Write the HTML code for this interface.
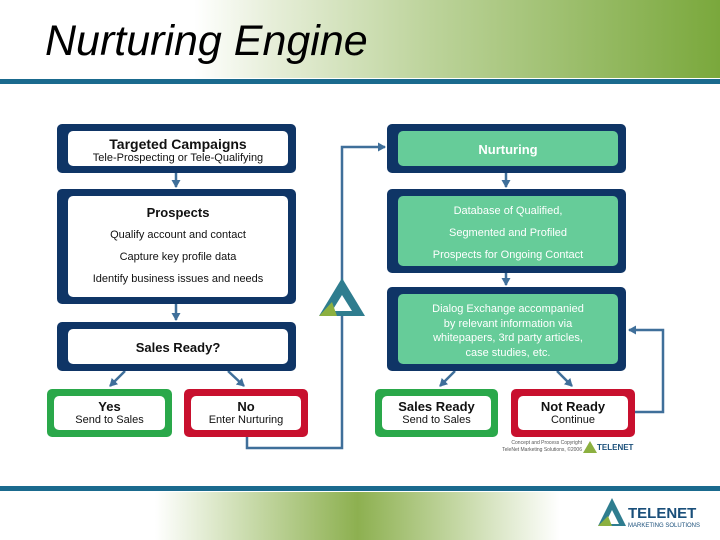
<!DOCTYPE html>
<html><head><style>
body{margin:0;width:720px;height:540px;position:relative;background:#fff;font-family:"Liberation Sans",sans-serif;overflow:hidden}
.a{position:absolute}
.o{position:absolute;background:#0f3566;border-radius:5px}
.i{position:absolute;left:11px;right:8px;top:7px;bottom:7px;background:#fff;border-radius:5px;text-align:center;color:#111;font-size:11px}
.g .i{background:#66cc99;color:#fff}
.b{font-weight:bold;font-size:13px}
</style></head><body>
<div class="a" style="left:0;top:0;width:720px;height:78px;background:linear-gradient(90deg,#fff 0%,#fff 27%,#e6eed8 38%,#bcd39a 60%,#7aa83c 100%)"></div>
<div class="a" style="left:45px;top:17px;font-size:43px;font-style:italic;color:#000">Nurturing Engine</div>
<div class="a" style="left:0;top:79px;width:720px;height:5px;background:#1a6a8e"></div>
<div class="a" style="left:0;top:486px;width:720px;height:5px;background:#1a6a8e"></div>
<div class="a" style="left:155px;top:492px;width:405px;height:48px;background:linear-gradient(90deg,#fff,#c5d8a5 25%,#8db050 50%,#c5d8a5 75%,#fff)"></div>
<svg class="a" style="left:598px;top:496px" width="112" height="34"><polygon points="14,2 28,30 0,30" fill="#2f7d8f"/><polygon points="14,14 21,28 7,28" fill="#fff"/><polygon points="0,30 10,20 14,30" fill="#8cb040"/><text x="30" y="22" font-family="Liberation Sans" font-weight="bold" font-size="15" fill="#1a4f7a">TELENET</text><text x="30" y="31" font-family="Liberation Sans" font-size="6" fill="#1a4f7a">MARKETING SOLUTIONS</text></svg>

<svg class="a" style="left:0;top:0" width="720" height="540">
<defs><marker id="m" markerUnits="userSpaceOnUse" markerWidth="10" markerHeight="10" refX="7" refY="4.5" orient="auto"><path d="M0,0L8,4.5L0,9z" fill="#3f6f9a"/></marker></defs>
<g stroke="#3f6f9a" stroke-width="2.5" fill="none">
<line x1="176" y1="173" x2="176" y2="187" marker-end="url(#m)"/>
<line x1="176" y1="304" x2="176" y2="320" marker-end="url(#m)"/>
<line x1="125" y1="371" x2="110" y2="386" marker-end="url(#m)"/>
<line x1="228" y1="371" x2="244" y2="386" marker-end="url(#m)"/>
<polyline points="247,437 247,448 342,448 342,147 385,147" marker-end="url(#m)"/>
<line x1="506" y1="173" x2="506" y2="187" marker-end="url(#m)"/>
<line x1="506" y1="273" x2="506" y2="285" marker-end="url(#m)"/>
<line x1="455" y1="371" x2="440" y2="386" marker-end="url(#m)"/>
<line x1="557" y1="371" x2="572" y2="386" marker-end="url(#m)"/>
<polyline points="635,412 663,412 663,330 629,330" marker-end="url(#m)"/>
</g>
<polygon points="342,278 365,316 319,316" fill="#2f7d8f"/><polygon points="342,295 352,311 332,311" fill="#fff"/><polygon points="319,316 332,302 337,316" fill="#8cb040"/>
</svg>

<div class="o" style="left:57px;top:124px;width:239px;height:49px"><div class="i"><div class="b" style="font-size:14px;margin-top:5px">Targeted Campaigns</div><div>Tele-Prospecting or Tele-Qualifying</div></div></div>
<div class="o" style="left:57px;top:189px;width:239px;height:115px"><div class="i" style="line-height:22px"><div class="b" style="margin-top:6px">Prospects</div><div>Qualify account and contact</div><div>Capture key profile data</div><div>Identify business issues and needs</div></div></div>
<div class="o" style="left:57px;top:322px;width:239px;height:49px"><div class="i"><div class="b" style="margin-top:11px">Sales Ready?</div></div></div>
<div class="o" style="left:47px;top:389px;width:125px;height:48px;background:#2aa84a"><div class="i" style="left:7px;right:7px"><div class="b" style="margin-top:3px">Yes</div><div>Send to Sales</div></div></div>
<div class="o" style="left:184px;top:389px;width:124px;height:48px;background:#c8102e"><div class="i" style="left:7px;right:7px"><div class="b" style="margin-top:3px">No</div><div>Enter Nurturing</div></div></div>

<div class="o g" style="left:387px;top:124px;width:239px;height:49px"><div class="i"><div class="b" style="margin-top:11px">Nurturing</div></div></div>
<div class="o g" style="left:387px;top:189px;width:239px;height:84px"><div class="i" style="line-height:22px"><div style="margin-top:4px">Database of Qualified,</div><div>Segmented and Profiled</div><div>Prospects for Ongoing Contact</div></div></div>
<div class="o g" style="left:387px;top:287px;width:239px;height:84px"><div class="i" style="line-height:14.5px"><div style="margin-top:8px">Dialog Exchange accompanied<br>by relevant information via<br>whitepapers, 3rd party articles,<br>case studies, etc.</div></div></div>
<div class="o" style="left:375px;top:389px;width:123px;height:48px;background:#2aa84a"><div class="i" style="left:7px;right:7px"><div class="b" style="margin-top:3px">Sales Ready</div><div>Send to Sales</div></div></div>
<div class="o" style="left:511px;top:389px;width:124px;height:48px;background:#c8102e"><div class="i" style="left:7px;right:7px"><div class="b" style="margin-top:3px">Not Ready</div><div>Continue</div></div></div>
<div class="a" style="left:498px;top:440px;width:84px;font-size:5px;color:#555;text-align:right;line-height:7px">Concept and Process Copyright<br>TeleNet Marketing Solutions, ©2006</div>
<svg class="a" style="left:583px;top:440px" width="52" height="14"><polygon points="7,1 14,13 0,13" fill="#8cb040"/><text x="14" y="10" font-family="Liberation Sans" font-weight="bold" font-size="8" fill="#1a4f7a">TELENET</text></svg>
</body></html>
